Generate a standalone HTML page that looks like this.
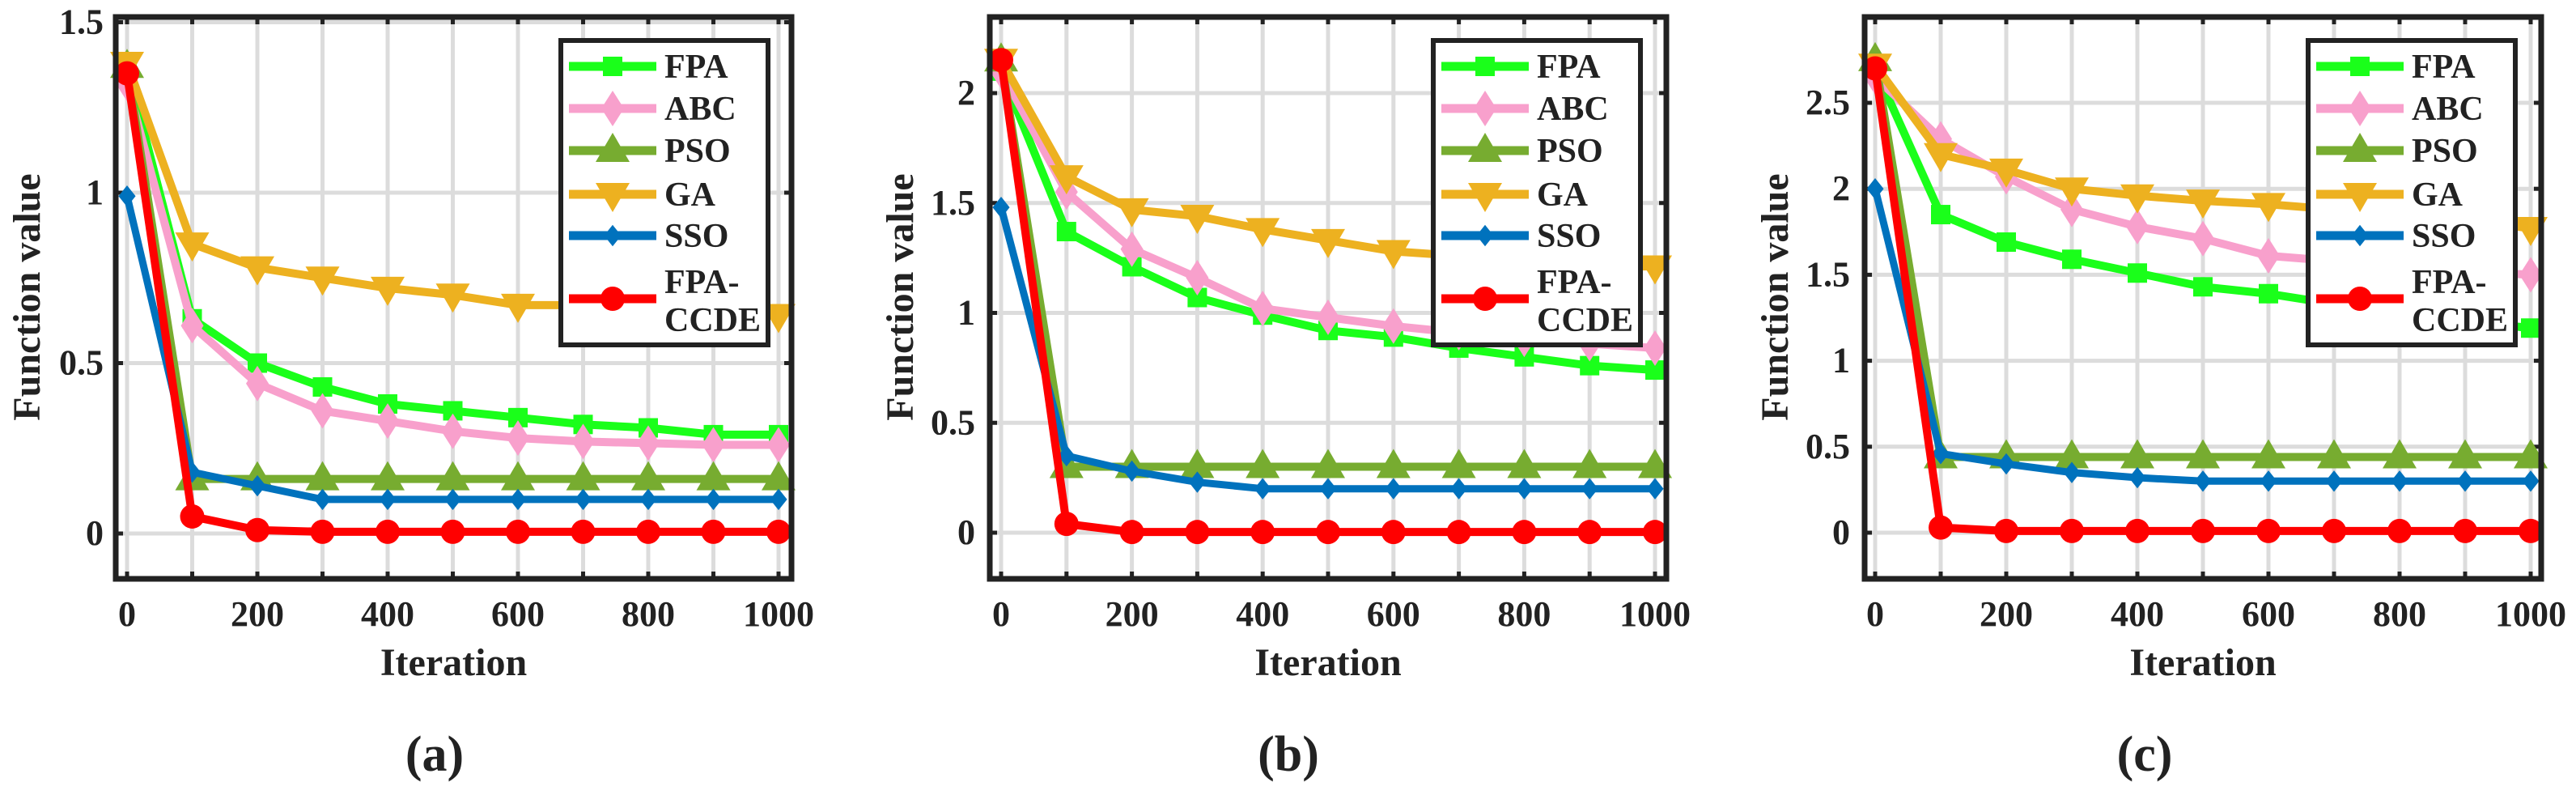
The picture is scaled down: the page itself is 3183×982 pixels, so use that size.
<!DOCTYPE html>
<html><head><meta charset="utf-8">
<style>
html,body{margin:0;padding:0;background:#fff;}
svg{display:block;}
text{font-family:"Liberation Serif",serif;font-weight:bold;fill:#222;}
</style></head>
<body>
<svg id="fig" width="3183" height="982" viewBox="0 0 3183 982" xmlns="http://www.w3.org/2000/svg"></svg>
<script>
const iterations = [0,100,200,300,400,500,600,700,800,900,1000];
const seriesNames = ["FPA","ABC","PSO","GA","SSO","FPA-CCDE"];
const xTicks = [0,200,400,600,800,1000];
const yTicksA = [0,0.5,1,1.5];
const yTicksB = [0,0.5,1,1.5,2];
const yTicksC = [0,0.5,1,1.5,2,2.5];
// Panel (a)
const aFPA = [1.37,0.63,0.50,0.43,0.38,0.36,0.34,0.32,0.31,0.29,0.29];
const aABC = [1.32,0.61,0.44,0.36,0.33,0.30,0.28,0.27,0.265,0.26,0.26];
const aPSO = [1.37,0.16,0.16,0.16,0.16,0.16,0.16,0.16,0.16,0.16,0.16];
const aGA  = [1.38,0.85,0.78,0.75,0.72,0.70,0.67,0.67,0.66,0.65,0.64];
const aSSO = [0.99,0.18,0.14,0.10,0.10,0.10,0.10,0.10,0.10,0.10,0.10];
const aCCDE= [1.35,0.05,0.01,0.005,0.005,0.005,0.005,0.005,0.005,0.005,0.005];
// Panel (b)
const bFPA = [2.10,1.37,1.21,1.07,0.99,0.92,0.89,0.84,0.80,0.76,0.74];
const bABC = [2.10,1.55,1.29,1.16,1.02,0.98,0.94,0.91,0.88,0.86,0.84];
const bPSO = [2.15,0.30,0.30,0.30,0.30,0.30,0.30,0.30,0.30,0.30,0.30];
const bGA  = [2.15,1.62,1.47,1.44,1.38,1.33,1.28,1.26,1.24,1.22,1.21];
const bSSO = [1.48,0.35,0.28,0.23,0.20,0.20,0.20,0.20,0.20,0.20,0.20];
const bCCDE= [2.15,0.04,0.003,0.003,0.003,0.003,0.003,0.003,0.003,0.003,0.003];
// Panel (c)
const cFPA = [2.70,1.85,1.69,1.59,1.51,1.43,1.39,1.33,1.28,1.23,1.19];
const cABC = [2.65,2.29,2.07,1.88,1.78,1.71,1.61,1.58,1.55,1.52,1.50];
const cPSO = [2.75,0.44,0.44,0.44,0.44,0.44,0.44,0.44,0.44,0.44,0.44];
const cGA  = [2.72,2.20,2.11,2.00,1.96,1.93,1.91,1.88,1.85,1.82,1.77];
const cSSO = [2.00,0.46,0.40,0.35,0.32,0.30,0.30,0.30,0.30,0.30,0.30];
const cCCDE= [2.70,0.03,0.01,0.01,0.01,0.01,0.01,0.01,0.01,0.01,0.01];

const colors = ["#1aff1a","#f8a0cc","#77ac30","#edb120","#0072bd","#ff0000"];
const NS = "http://www.w3.org/2000/svg";
const svg = document.getElementById("fig");
function mk(tag, attrs, parent){
  const e = document.createElementNS(NS, tag);
  for (const k in attrs) e.setAttribute(k, attrs[k]);
  (parent||svg).appendChild(e);
  return e;
}
function marker(g, kind, cx, cy, col){
  let m;
  if (kind===0) m = mk("rect",{x:cx-12,y:cy-12,width:24,height:24,fill:col},g);
  else if (kind===1) m = mk("polygon",{points:`${cx},${cy-22} ${cx+14},${cy} ${cx},${cy+22} ${cx-14},${cy}`,fill:col},g);
  else if (kind===2) m = mk("polygon",{points:`${cx},${cy-22} ${cx+21},${cy+14} ${cx-21},${cy+14}`,fill:col},g);
  else if (kind===3) m = mk("polygon",{points:`${cx-21},${cy-14} ${cx+21},${cy-14} ${cx},${cy+22}`,fill:col},g);
  else if (kind===4) m = mk("polygon",{points:`${cx},${cy-10} ${cx+8},${cy} ${cx},${cy+10} ${cx-8},${cy}`,fill:col,stroke:col,"stroke-width":4},g);
  else m = mk("circle",{cx:cx,cy:cy,r:15,fill:col},g);
  return m;
}
const panels = [
  {id:"a", data:[aFPA,aABC,aPSO,aGA,aSSO,aCCDE], yTicks:yTicksA, bl:143, br:978, x0:157, x1:962, y0:659, yUnit:421, tickRight:128, ylabX:33, legX:693, cap:537},
  {id:"b", data:[bFPA,bABC,bPSO,bGA,bSSO,bCCDE], yTicks:yTicksB, bl:1223, br:2059, x0:1237, x1:2045, y0:658, yUnit:271.5, tickRight:1205, ylabX:1112, legX:1771, cap:1592},
  {id:"c", data:[cFPA,cABC,cPSO,cGA,cSSO,cCCDE], yTicks:yTicksC, bl:2304, br:3140, x0:2317, x1:3127, y0:658, yUnit:212.4, tickRight:2286, ylabX:2193, legX:2852, cap:2650}
];
const axTop = 21, axBottom = 715;
panels.forEach(p=>{
  const g = mk("g",{});
  
  
  const X = v => p.x0 + (p.x1-p.x0)*v/1000;
  const Y = v => p.y0 - p.yUnit*v;
  iterations.forEach(it=>{
    const l = mk("line",{x1:X(it),x2:X(it),y1:axTop,y2:axBottom,stroke:"#dcdcdc","stroke-width":5},g);
    
    
  });
  p.yTicks.forEach(t=>{
    const l = mk("line",{x1:p.bl,x2:p.br,y1:Y(t),y2:Y(t),stroke:"#dcdcdc","stroke-width":5},g);
    
    
  });
  iterations.forEach(it=>{
    mk("line",{x1:X(it),x2:X(it),y1:axTop,y2:axTop+9,stroke:"#222","stroke-width":5},g);
    mk("line",{x1:X(it),x2:X(it),y1:axBottom-9,y2:axBottom,stroke:"#222","stroke-width":5},g);
  });
  p.yTicks.forEach(t=>{
    mk("line",{x1:p.bl,x2:p.bl+9,y1:Y(t),y2:Y(t),stroke:"#222","stroke-width":5},g);
    mk("line",{x1:p.br-9,x2:p.br,y1:Y(t),y2:Y(t),stroke:"#222","stroke-width":5},g);
    const tx = mk("text",{x:p.tickRight,y:Y(t)+14,"text-anchor":"end","font-size":44},g);
    tx.textContent = String(t);
    
    
  });
  xTicks.forEach(t=>{
    const tx = mk("text",{x:X(t),y:773,"text-anchor":"middle","font-size":44},g);
    tx.textContent = String(t);
    
    
  });
  p.data.forEach((arr,si)=>{
    const sg = mk("g",{},g);
    
    
    const pts = arr.map((v,i)=>X(iterations[i])+","+Y(v)).join(" ");
    const pl = mk("polyline",{points:pts,fill:"none",stroke:colors[si],"stroke-width":si===4?9:10,"stroke-linejoin":"round"},sg);
    
    
    arr.forEach((v,i)=>{
      const m = marker(sg, si, X(iterations[i]), Y(v), colors[si]);
      
      
    });
  });
  const box = mk("rect",{x:p.bl,y:axTop,width:p.br-p.bl,height:axBottom-axTop,fill:"none",stroke:"#222","stroke-width":7},g);
  
  
  const lg = mk("g",{},g);
  
  
  mk("rect",{x:p.legX,y:50,width:256,height:376,fill:"#fff",stroke:"#222","stroke-width":6},lg);
  const rows = [82,134,186,240,291,369];
  seriesNames.forEach((n,si)=>{
    const eg = mk("g",{},lg);
    
    
    const y = rows[si];
    mk("line",{x1:p.legX+10,x2:p.legX+118,y1:y,y2:y,stroke:colors[si],"stroke-width":11},eg);
    marker(eg, si, p.legX+64, y, colors[si]);
    if (si<5){
      const t = mk("text",{x:p.legX+128,y:y+14,"font-size":42},eg);
      t.textContent = n;
    } else {
      const t1 = mk("text",{x:p.legX+128,y:y-7,"font-size":42},eg);
      t1.textContent = "FPA-";
      const t2 = mk("text",{x:p.legX+128,y:y+40,"font-size":42},eg);
      t2.textContent = "CCDE";
    }
  });
  const xl = mk("text",{x:(p.bl+p.br)/2,y:834,"text-anchor":"middle","font-size":48},g);
  xl.textContent = "Iteration";
  
  
  const yl = mk("text",{x:0,y:0,"text-anchor":"middle","font-size":48,transform:`translate(${p.ylabX+16},367) rotate(-90)`},g);
  yl.textContent = "Function value";
  
  
  const cap = mk("text",{x:p.cap,y:952,"text-anchor":"middle","font-size":62,"font-weight":"normal"},g);
  cap.innerHTML = '(<tspan font-weight="bold">'+p.id+'</tspan>)';
  
  
});
</script>
</body></html>
